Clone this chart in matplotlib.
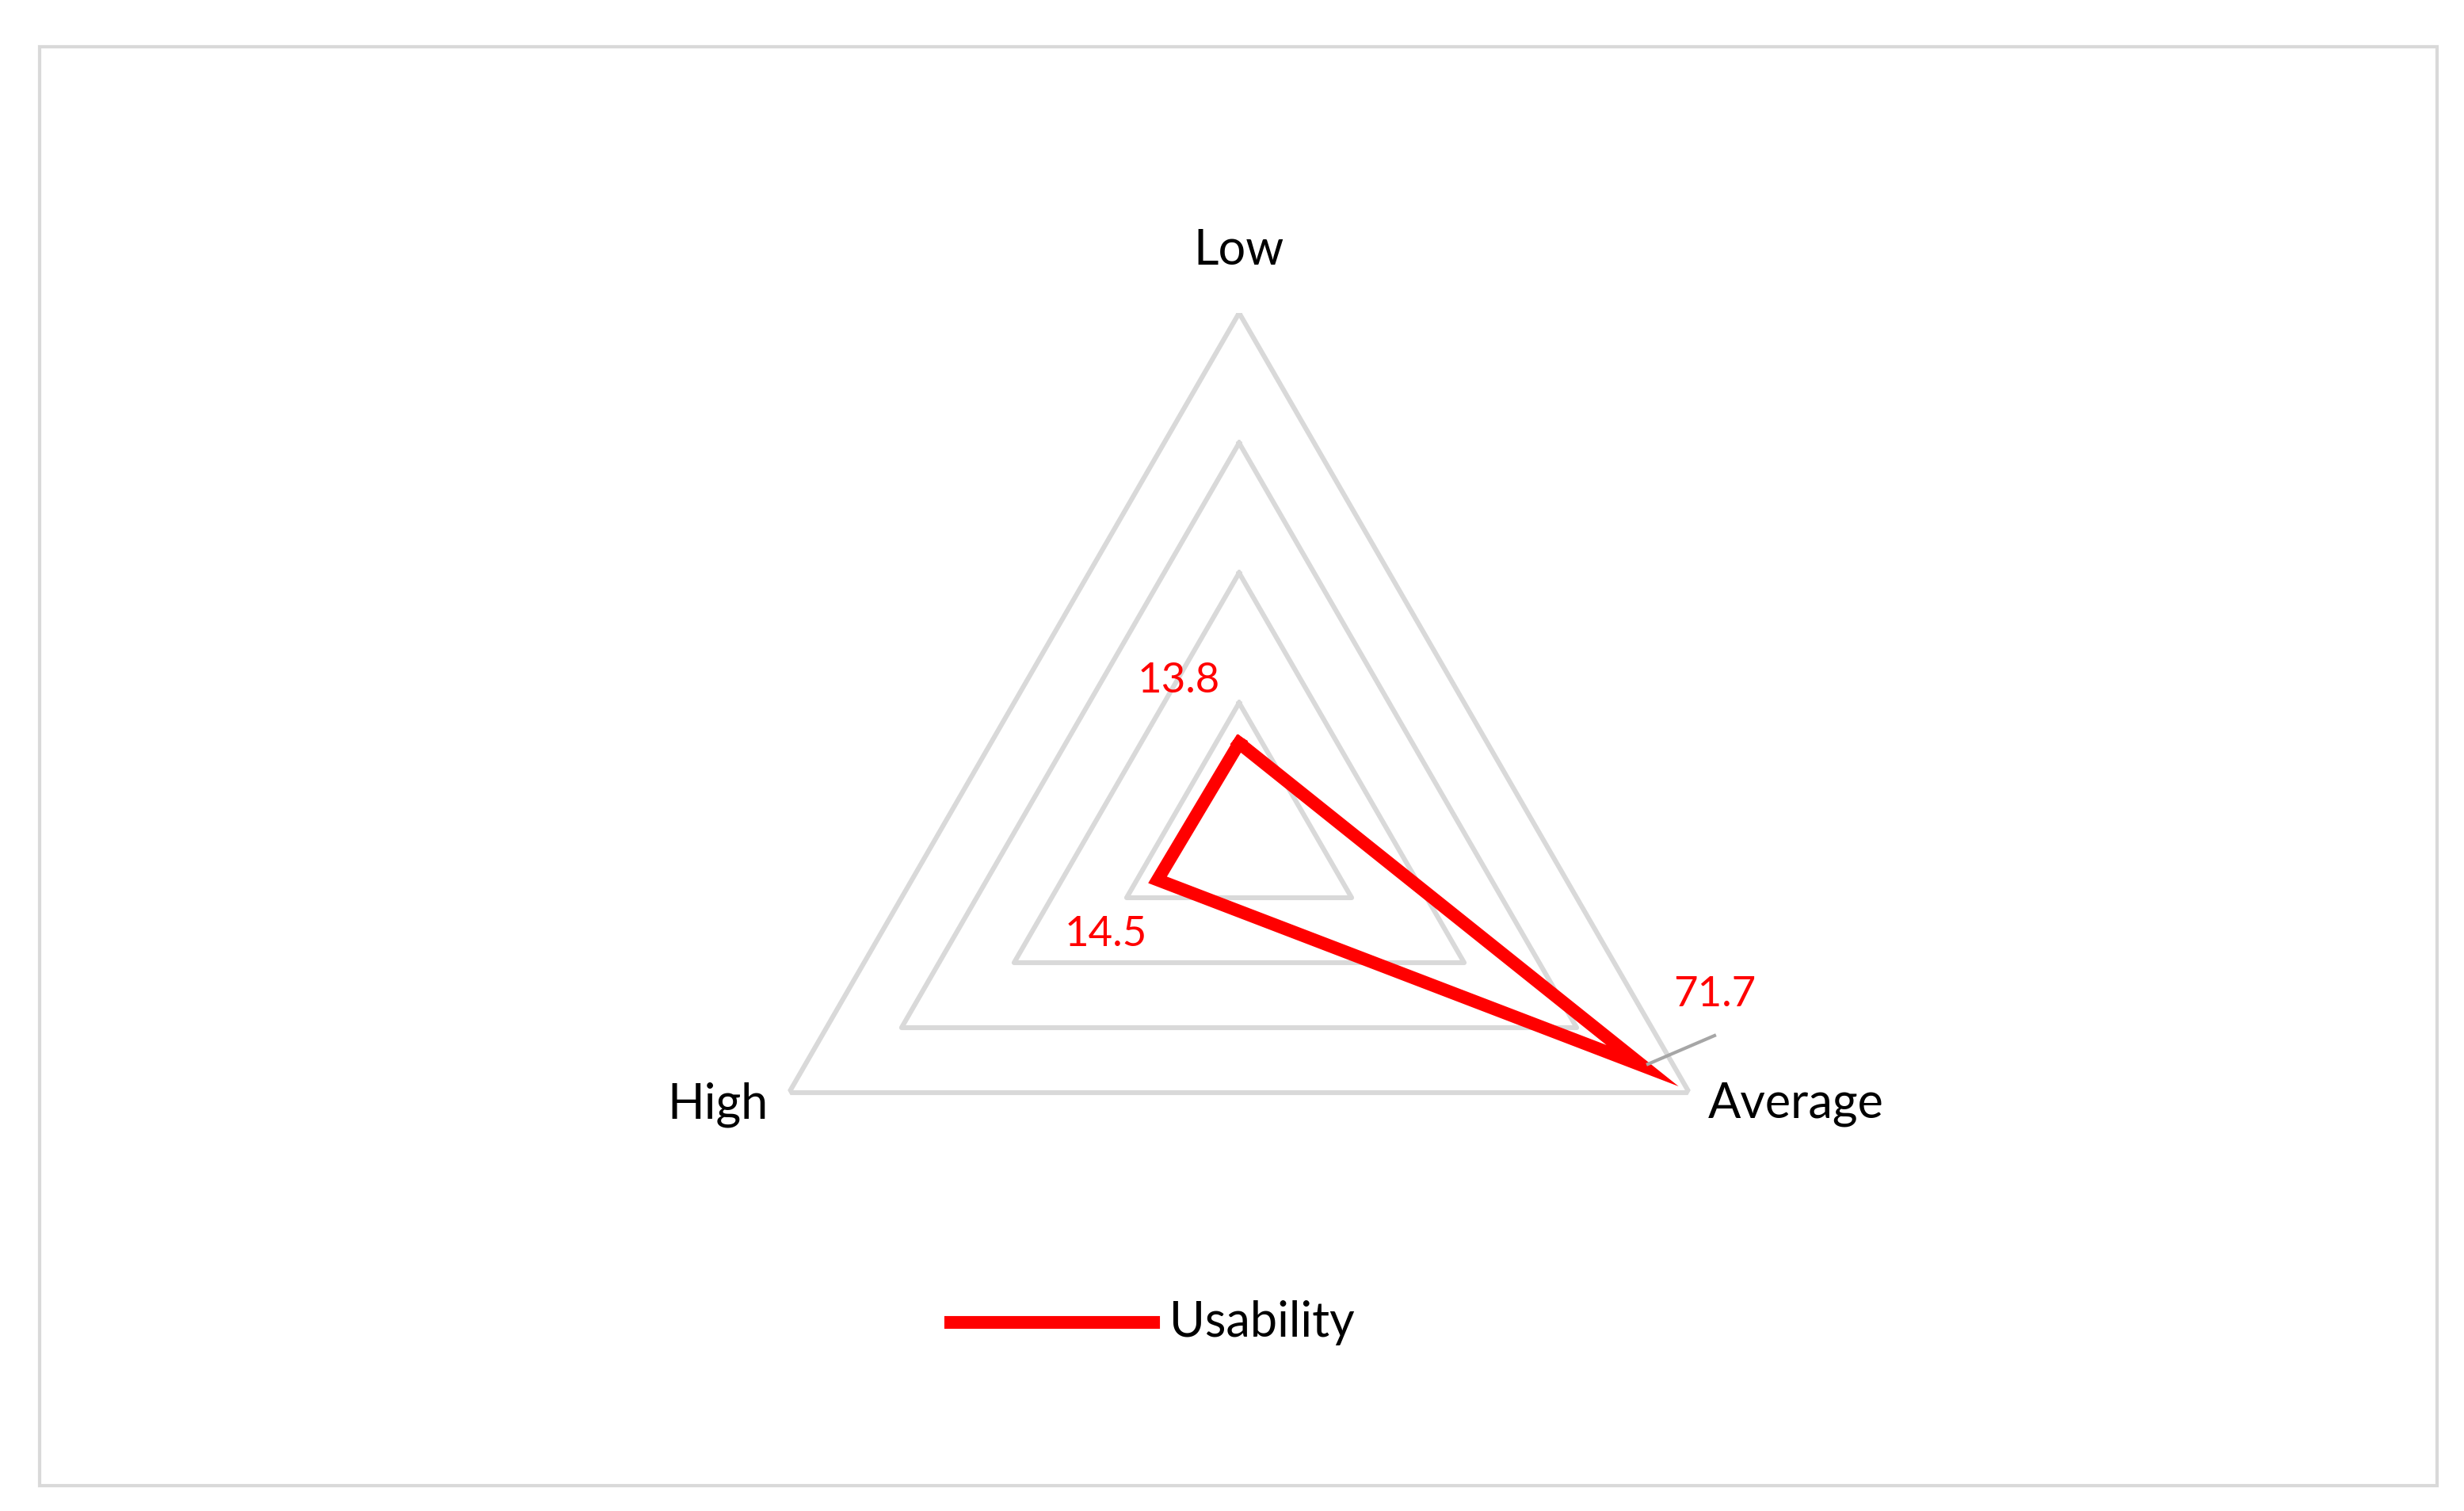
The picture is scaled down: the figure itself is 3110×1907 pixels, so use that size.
import numpy as np
from matplotlib import pyplot as plt
from matplotlib.lines import Line2D
from matplotlib.patches import Rectangle

categories = ["Low", "Average", "High"]
usability = [13.8, 71.7, 14.5]
rings = [20, 40, 60, 80]

plt.rcParams['font.family'] = ['Lato', 'DejaVu Sans']

W, H = 1555.0, 954.0


def fx(x):
    return x / W


def fy(y):
    return 1 - y / H


fig = plt.figure(figsize=(15.55, 9.54), dpi=200)
fig.patches.append(Rectangle((fx(25), fy(938)), fx(1538) - fx(25), fy(30) - fy(938),
                             transform=fig.transFigure, fill=False, edgecolor='#d9d9d9', linewidth=1.5))

cx, cy, rad = 782, 526, 328
ax = fig.add_axes([fx(cx - rad), fy(cy + rad), 2 * rad / W, 2 * rad / H], projection='polar')
ax.set_theta_offset(np.pi / 2)
ax.set_theta_direction(-1)
ax.set_ylim(0, 80)
ax.axis('off')

angles = np.linspace(0, 2 * np.pi, len(categories), endpoint=False)
closed = np.append(angles, angles[0])

for r in rings:
    ax.plot(closed, [r] * len(closed), color='#d9d9d9', linewidth=2.2, zorder=1)

vals = usability + [usability[0]]
ax.plot(closed, vals, color='#ff0000', linewidth=5.8, solid_joinstyle='miter', zorder=3)

# category labels
fig.text(fx(782), fy(158), "Low", fontsize=22, ha='center', va='center')
fig.text(fx(485), fy(697), "High", fontsize=22, ha='right', va='center')
fig.text(fx(1078), fy(697), "Average", fontsize=22, ha='left', va='center')

# data labels
fig.text(fx(744), fy(430), "13.8", fontsize=19, color='#ff0000', ha='center', va='center')
fig.text(fx(698), fy(590), "14.5", fontsize=19, color='#ff0000', ha='center', va='center')
fig.text(fx(1082), fy(628), "71.7", fontsize=19, color='#ff0000', ha='center', va='center')
fig.lines.append(Line2D([fx(1040), fx(1082)], [fy(672), fy(654)],
                        transform=fig.transFigure, color='#a6a6a6', linewidth=1.5))

# legend
fig.lines.append(Line2D([fx(600), fx(728)], [fy(835), fy(835)],
                        transform=fig.transFigure, color='#ff0000', linewidth=5.8))
fig.text(fx(738), fy(835), "Usability", fontsize=22, ha='left', va='center')

plt.savefig("out.png", dpi=200)
